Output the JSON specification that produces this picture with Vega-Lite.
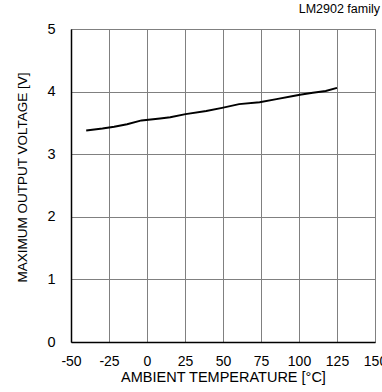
{
  "$schema": "https://vega.github.io/schema/vega-lite/v6.json",
  "autosize": "none",
  "padding": {"left": 71, "top": 29, "right": 7, "bottom": 50},
  "width": 304,
  "height": 313,
  "background": "white",
  "title": {"text": "LM2902  family", "anchor": "end", "frame": "group", "fontSize": 12.5, "font": "Liberation Sans", "fontWeight": "normal", "color": "black", "offset": 6, "dx": 5},
  "config": {
    "view": {"stroke": "#888888", "strokeWidth": 1},
    "axis": {"labelFont": "Liberation Sans", "titleFont": "Liberation Sans", "labelColor": "black", "titleColor": "black", "titleFontWeight": "normal", "gridColor": "#808080", "gridOpacity": 1, "gridWidth": 1, "domainColor": "black", "domainWidth": 1.5, "ticks": false, "labelExpr": "datum.value + ''"}
  },
  "data": {"values": [
    {"t": -40, "v": 3.38},
    {"t": -29.3, "v": 3.41},
    {"t": -21.6, "v": 3.44},
    {"t": -13.1, "v": 3.48},
    {"t": -3.6, "v": 3.54},
    {"t": 8.6, "v": 3.57},
    {"t": 15.3, "v": 3.59},
    {"t": 25.4, "v": 3.64},
    {"t": 39, "v": 3.69},
    {"t": 49.4, "v": 3.74},
    {"t": 60.6, "v": 3.80},
    {"t": 74.1, "v": 3.83},
    {"t": 85.2, "v": 3.88},
    {"t": 96.2, "v": 3.93},
    {"t": 100.6, "v": 3.95},
    {"t": 109.1, "v": 3.98},
    {"t": 117.6, "v": 4.01},
    {"t": 125, "v": 4.06}
  ]},
  "mark": {"type": "line", "color": "black", "strokeWidth": 2},
  "encoding": {
    "x": {"field": "t", "type": "quantitative", "scale": {"domain": [-50, 150], "nice": false}, "axis": {"values": [-50, -25, 0, 25, 50, 75, 100, 125, 150], "labelFontSize": 14, "labelPadding": 12, "labelOverlap": false, "labelFlush": false, "title": "AMBIENT TEMPERATURE [°C]", "titleFontSize": 14.5, "titlePadding": 2}},
    "y": {"field": "v", "type": "quantitative", "scale": {"domain": [0, 5], "nice": false}, "axis": {"values": [0, 1, 2, 3, 4, 5], "labelFontSize": 14.5, "labelPadding": 16, "labelFlush": false, "title": "MAXIMUM OUTPUT VOLTAGE [V]", "titleFontSize": 13.5, "titlePadding": 17, "titleY": 148}}
  }
}
